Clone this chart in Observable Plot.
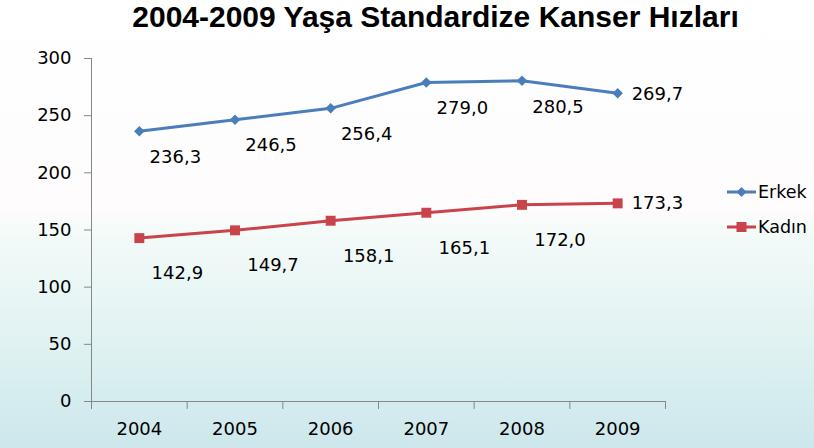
<!DOCTYPE html>
<html>
<head>
<meta charset="utf-8">
<script src="https://cdn.jsdelivr.net/npm/d3@7"></script>
<script src="https://cdn.jsdelivr.net/npm/@observablehq/plot@0.6"></script>
<style>
  html, body { margin: 0; padding: 0; }
  #wrap {
    position: relative; width: 814px; height: 448px; overflow: hidden;
    background: linear-gradient(to bottom, #ffffff 0%, #fefcfc 47%, #f4fbf9 51%, #e7f5f4 68%, #d9eff0 84%, #cde7ec 100%);
    font-family: "DejaVu Sans", sans-serif;
  }
  #title {
    position: absolute; left: 57px; width: 757px; top: 1px; text-align: center;
    font-family: "Liberation Sans", Arial, sans-serif; font-weight: bold;
    font-size: 30px; line-height: 32px; color: #000; white-space: nowrap;
  }
  #chart { position: absolute; left: 0; top: 0; }
  .leg { position: absolute; left: 727px; display: flex; align-items: center; font-size: 17.5px; color: #000; }
  .leg svg { margin-right: 2px; }
</style>
</head>
<body>
<div id="wrap">
  <div id="chart"></div>
  <div id="title">2004-2009 Yaşa Standardize Kanser Hızları</div>
  <div class="leg" id="legE" style="top:181px"></div>
  <div class="leg" id="legK" style="top:216px"></div>
</div>
<script>
const years = [2004, 2005, 2006, 2007, 2008, 2009];
const erkek = [236.3, 246.5, 256.4, 279.0, 280.5, 269.7];
const kadin = [142.9, 149.7, 158.1, 165.1, 172.0, 173.3];
const yTicks = [0, 50, 100, 150, 200, 250, 300];
const seriesNames = ["Erkek", "Kadın"];

const blue = "#4A7EBB";
const red = "#C8434A";
const axisGray = "#878787";

const rowsE = years.map((year, i) => ({year, value: erkek[i]}));
const rowsK = years.map((year, i) => ({year, value: kadin[i]}));
const bounds = years.map(y => y - 0.5).concat([years[years.length - 1] + 0.5]);
const fmt = v => d3.format(".1f")(v).replace(".", ",");

const diamond = {
  draw(ctx, size) {
    const s = Math.sqrt(size / 2);
    ctx.moveTo(0, -s); ctx.lineTo(s, 0); ctx.lineTo(0, s); ctx.lineTo(-s, 0); ctx.closePath();
  }
};

const last = years[years.length - 1];
const fs = 18;

const plot = Plot.plot({
  width: 814,
  height: 448,
  marginTop: 58,
  marginBottom: 47,
  marginLeft: 91,
  marginRight: 149,
  style: {background: "transparent", fontFamily: "DejaVu Sans, sans-serif", overflow: "visible"},
  x: {type: "linear", domain: [bounds[0], bounds[bounds.length - 1]]},
  y: {domain: [0, 300]},
  marks: [
    Plot.axisY({ticks: yTicks, tickSize: 7, tickPadding: 13, fontSize: fs, stroke: axisGray, color: "#000", label: null}),
    Plot.axisX({ticks: bounds, tickSize: 8, tickFormat: () => "", stroke: axisGray, label: null}),
    Plot.axisX({ticks: years, tickSize: 0, tickPadding: 21, tickFormat: d => String(d), fontSize: fs, color: "#000", label: null}),
    Plot.ruleX([bounds[0]], {y1: 0, y2: 300, stroke: axisGray, strokeWidth: 1}),
    Plot.ruleY([0], {x1: bounds[0], x2: bounds[bounds.length - 1], stroke: axisGray, strokeWidth: 1}),
    Plot.line(rowsE, {x: "year", y: "value", stroke: blue, strokeWidth: 3}),
    Plot.dot(rowsE, {x: "year", y: "value", symbol: diamond, r: 4.2, fill: blue, stroke: "none"}),
    Plot.line(rowsK, {x: "year", y: "value", stroke: red, strokeWidth: 3}),
    Plot.dot(rowsK, {x: "year", y: "value", symbol: "square", r: 5.6, fill: red, stroke: "none"}),
    Plot.text(rowsE, {filter: d => d.year < last, x: "year", y: "value", text: d => fmt(d.value), dx: 36, dy: 26, fontSize: fs, fill: "#000"}),
    Plot.text(rowsE, {filter: d => d.year === last, x: "year", y: "value", text: d => fmt(d.value), dx: 14, dy: 1, textAnchor: "start", fontSize: fs, fill: "#000"}),
    Plot.text(rowsK, {filter: d => d.year < last, x: "year", y: "value", text: d => fmt(d.value), dx: 38, dy: 35, fontSize: fs, fill: "#000"}),
    Plot.text(rowsK, {filter: d => d.year === last, x: "year", y: "value", text: d => fmt(d.value), dx: 14, dy: 0, textAnchor: "start", fontSize: fs, fill: "#000"})
  ]
});
document.getElementById("chart").appendChild(plot);

function swatch(color, kind) {
  const ns = "http://www.w3.org/2000/svg";
  const svg = document.createElementNS(ns, "svg");
  svg.setAttribute("width", 29); svg.setAttribute("height", 22);
  const line = document.createElementNS(ns, "line");
  line.setAttribute("x1", 0); line.setAttribute("x2", 29);
  line.setAttribute("y1", 11); line.setAttribute("y2", 11);
  line.setAttribute("stroke", color); line.setAttribute("stroke-width", 3);
  svg.appendChild(line);
  const m = document.createElementNS(ns, "path");
  if (kind === "diamond") m.setAttribute("d", "M14.5,6L19.5,11L14.5,16L9.5,11Z");
  else m.setAttribute("d", "M9.5,6H19.5V16H9.5Z");
  m.setAttribute("fill", color);
  svg.appendChild(m);
  return svg;
}
const legE = document.getElementById("legE");
legE.appendChild(swatch(blue, "diamond"));
legE.appendChild(document.createTextNode(seriesNames[0]));
const legK = document.getElementById("legK");
legK.appendChild(swatch(red, "square"));
legK.appendChild(document.createTextNode(seriesNames[1]));
</script>
</body>
</html>
